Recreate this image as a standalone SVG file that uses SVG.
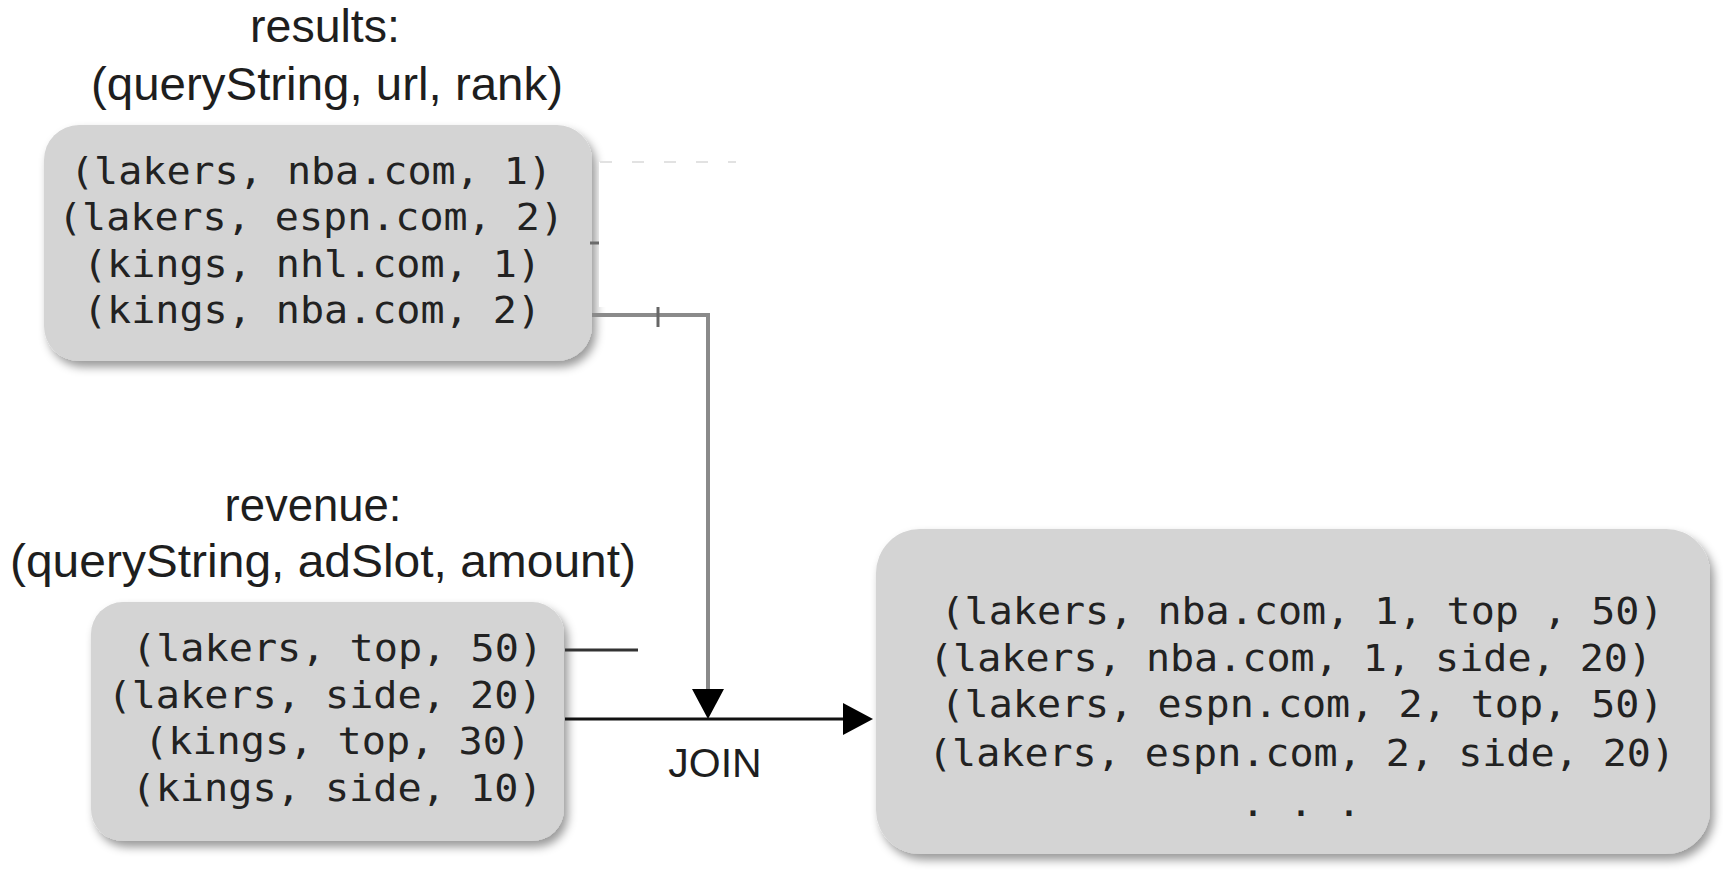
<svg xmlns="http://www.w3.org/2000/svg" width="1723" height="872" viewBox="0 0 1723 872">
<style>
.box{fill:#d4d4d4;filter:url(#sh)}
.mono{font-family:"DejaVu Sans Mono","Liberation Mono",monospace;font-size:38px;fill:#222}
.title{font-family:"Liberation Sans",Arial,sans-serif;font-size:46px;fill:#1e1e1e;text-anchor:middle}
.gray{fill:none;stroke:#8a8a8a;stroke-width:4}
.dark{fill:none;stroke:#111;stroke-width:3}
</style>
<defs>
<filter id="sh" x="-10%" y="-10%" width="125%" height="130%">
<feDropShadow dx="4" dy="6" stdDeviation="5" flood-color="#000" flood-opacity="0.4"/>
</filter>
<marker id="ah" viewBox="0 0 30 32" refX="0" refY="16" markerWidth="30" markerHeight="32" markerUnits="userSpaceOnUse" orient="auto">
<path d="M0,0 L30,16 L0,32 Z" fill="#000"/>
</marker>
</defs>
<rect width="1723" height="872" fill="#fff"/>

<g id="results">
<text class="title" x="325" y="42" textLength="150" lengthAdjust="spacingAndGlyphs">results:</text>
<text class="title" x="327" y="100" textLength="472" lengthAdjust="spacingAndGlyphs">(queryString, url, rank)</text>
<rect class="box" x="44" y="125" width="548" height="236" rx="35"/>
<g class="mono" text-anchor="middle">
<text x="311" y="184" textLength="482" lengthAdjust="spacingAndGlyphs">(lakers, nba.com, 1)</text>
<text x="311" y="230" textLength="506" lengthAdjust="spacingAndGlyphs">(lakers, espn.com, 2)</text>
<text x="312" y="277" textLength="458" lengthAdjust="spacingAndGlyphs">(kings, nhl.com, 1)</text>
<text x="312" y="323" textLength="458" lengthAdjust="spacingAndGlyphs">(kings, nba.com, 2)</text>
</g>
</g>

<g id="mask">
<rect x="599" y="162" width="140" height="145" fill="#fff"/>
<line x1="600" y1="162" x2="736" y2="162" stroke="#e2e2e2" stroke-width="2" stroke-dasharray="12,20"/>
</g>

<g id="revenue">
<text class="title" x="313" y="521" textLength="177" lengthAdjust="spacingAndGlyphs">revenue:</text>
<text class="title" x="323" y="577" textLength="626" lengthAdjust="spacingAndGlyphs">(queryString, adSlot, amount)</text>
<rect class="box" x="91" y="602" width="473" height="239" rx="32"/>
<g class="mono" text-anchor="middle">
<text x="337.5" y="661" textLength="411" lengthAdjust="spacingAndGlyphs">(lakers, top, 50)</text>
<text x="325" y="707.5" textLength="435" lengthAdjust="spacingAndGlyphs">(lakers, side, 20)</text>
<text x="337.5" y="754" textLength="387" lengthAdjust="spacingAndGlyphs">(kings, top, 30)</text>
<text x="337" y="800.5" textLength="411" lengthAdjust="spacingAndGlyphs">(kings, side, 10)</text>
</g>
</g>

<g id="joined">
<rect class="box" x="876" y="529" width="834" height="325" rx="44"/>
<g class="mono" text-anchor="middle">
<text x="1302" y="624" textLength="723" lengthAdjust="spacingAndGlyphs">(lakers, nba.com, 1, top , 50)</text>
<text x="1290.5" y="670.5" textLength="723" lengthAdjust="spacingAndGlyphs">(lakers, nba.com, 1, side, 20)</text>
<text x="1302" y="717" textLength="723" lengthAdjust="spacingAndGlyphs">(lakers, espn.com, 2, top, 50)</text>
<text x="1301.5" y="766" textLength="747" lengthAdjust="spacingAndGlyphs">(lakers, espn.com, 2, side, 20)</text>
<text x="1301" y="816" textLength="120" lengthAdjust="spacingAndGlyphs">. . .</text>
</g>
</g>

<g id="connectors">
<line x1="590" y1="243" x2="599" y2="243" stroke="#6a6a6a" stroke-width="3"/>
<path class="gray" d="M592,315 H708 V689" marker-end="url(#ah)"/>
<line x1="658" y1="307" x2="658" y2="327" stroke="#666" stroke-width="3"/>
<line x1="565" y1="650" x2="638" y2="650" stroke="#333" stroke-width="3"/>
<path class="dark" d="M565,719 H843" marker-end="url(#ah)"/>
<text x="715" y="777" font-family="Liberation Sans, Arial, sans-serif" font-size="41" fill="#1e1e1e" text-anchor="middle">JOIN</text>
</g>
</svg>
